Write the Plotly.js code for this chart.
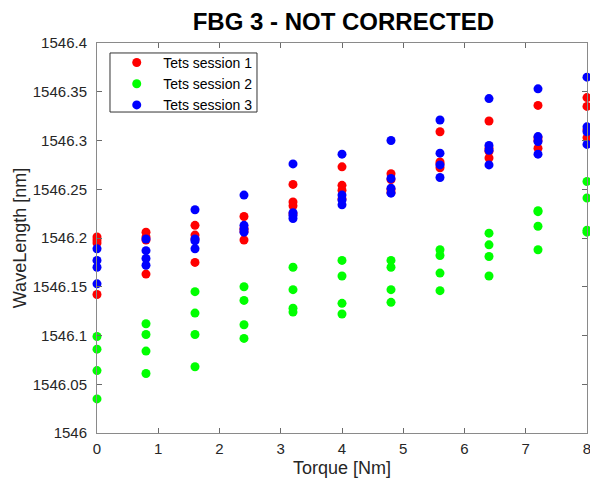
<!DOCTYPE html>
<html><head><meta charset="utf-8">
<script src="https://cdn.plot.ly/plotly-3.0.1.min.js"></script>
<style>html,body{margin:0;padding:0;background:#fff}#chart{width:590px;height:479px}</style>
</head><body><div id="chart"></div>
<script>
const torque = [0, 0.8, 1.6, 2.4, 3.2, 4.0, 4.8, 5.6, 6.4, 7.2, 8.0];
const session1 = [
  [1546.201, 1546.198, 1546.195, 1546.142],
  [1546.206, 1546.201, 1546.198, 1546.163],
  [1546.213, 1546.203, 1546.199, 1546.175],
  [1546.222, 1546.210, 1546.207, 1546.198],
  [1546.255, 1546.237, 1546.233, 1546.225],
  [1546.273, 1546.254, 1546.249, 1546.240],
  [1546.266, 1546.260, 1546.250, 1546.247],
  [1546.309, 1546.278, 1546.276, 1546.272],
  [1546.320, 1546.292, 1546.282, 1546.289],
  [1546.336, 1546.300, 1546.292, 1546.303],
  [1546.344, 1546.335, 1546.303, 1546.311]
];
const session2 = [
  [1546.099, 1546.086, 1546.064, 1546.035],
  [1546.112, 1546.101, 1546.084, 1546.061],
  [1546.145, 1546.123, 1546.101, 1546.068],
  [1546.150, 1546.136, 1546.111, 1546.097],
  [1546.170, 1546.147, 1546.128, 1546.124],
  [1546.177, 1546.161, 1546.133, 1546.122],
  [1546.177, 1546.170, 1546.147, 1546.134],
  [1546.188, 1546.182, 1546.164, 1546.146],
  [1546.205, 1546.193, 1546.181, 1546.161],
  [1546.228, 1546.212, 1546.188, 1546.227],
  [1546.258, 1546.241, 1546.208, 1546.206]
];
const session3 = [
  [1546.189, 1546.177, 1546.170, 1546.153],
  [1546.199, 1546.187, 1546.179, 1546.172],
  [1546.229, 1546.197, 1546.189, 1546.199],
  [1546.244, 1546.213, 1546.206, 1546.209],
  [1546.276, 1546.226, 1546.220, 1546.223],
  [1546.286, 1546.244, 1546.239, 1546.234],
  [1546.300, 1546.261, 1546.251, 1546.246],
  [1546.321, 1546.287, 1546.275, 1546.262],
  [1546.343, 1546.295, 1546.290, 1546.275],
  [1546.353, 1546.304, 1546.299, 1546.286],
  [1546.365, 1546.314, 1546.309, 1546.296]
];
const seriesNames = ['Tets session 1', 'Tets session 2', 'Tets session 3'];
const seriesColors = ['#ff0000', '#00ff00', '#0000ff'];
const yTickVals = [1546, 1546.05, 1546.1, 1546.15, 1546.2, 1546.25, 1546.3, 1546.35, 1546.4];
const yTickText = ['1546', '1546.05', '1546.1', '1546.15', '1546.2', '1546.25', '1546.3', '1546.35', '1546.4'];
const xTickVals = [0, 1, 2, 3, 4, 5, 6, 7, 8];
const xTitle = 'Torque [Nm]';
const yTitle = 'WaveLength [nm]';

const FONT = 'Liberation Sans, Arial, sans-serif';
function flatten(sess) {
  const xs = [], ys = [];
  sess.forEach((vals, i) => vals.forEach(v => { xs.push(torque[i]); ys.push(v); }));
  return {xs, ys};
}
const traces = [session1, session2, session3].map((s, k) => {
  const f = flatten(s);
  return {
    type: 'scatter', mode: 'markers', x: f.xs, y: f.ys, name: seriesNames[k],
    cliponaxis: false,
    marker: {color: seriesColors[k], size: 9, symbol: 'circle', line: {width: 0}}
  };
});
const axisCommon = {
  showgrid: false, zeroline: false, showline: true, linecolor: '#8a8a8a', linewidth: 1,
  mirror: 'ticks', ticks: 'inside', ticklen: 5, tickcolor: '#6a6a6a', tickwidth: 1,
  ticklabeloverflow: 'allow', automargin: false,
  tickfont: {family: FONT, size: 15, color: '#262626'}
};
const layout = {
  width: 590, height: 479,
  margin: {l: 97, r: 3, t: 43, b: 46},
  paper_bgcolor: '#fff', plot_bgcolor: '#fff',
  title: {text: '<b>FBG 3 - NOT CORRECTED</b>', x: 0.582, xanchor: 'center', y: 0.955, yanchor: 'middle',
          font: {family: FONT, size: 24, color: '#000'}},
  xaxis: Object.assign({}, axisCommon, {
    range: [0, 8], tickvals: xTickVals, ticklabelstandoff: 2
  }),
  yaxis: Object.assign({}, axisCommon, {
    range: [1546, 1546.4], tickvals: yTickVals, ticktext: yTickText, ticklabelstandoff: 6,
    title: {text: yTitle, standoff: 1, font: {family: FONT, size: 18, color: '#262626'}}
  }),
  annotations: [{text: xTitle, xref: 'paper', yref: 'paper', x: 0.5, y: -0.0885,
                 xanchor: 'center', yanchor: 'middle', showarrow: false,
                 font: {family: FONT, size: 18, color: '#262626'}}],
  shapes: [{type: 'rect', xref: 'paper', yref: 'paper', x0: 0.0265, x1: 0.3265, y0: 0.823, y1: 0.9744,
            line: {color: '#333', width: 1}, fillcolor: '#fff', layer: 'below'}],
  showlegend: true,
  legend: {x: 0.027, y: 0.990, xanchor: 'left', yanchor: 'top', bgcolor: 'rgba(0,0,0,0)',
           borderwidth: 0, itemwidth: 43, tracegroupgap: 0,
           font: {family: FONT, size: 14, color: '#000'}}
};
Plotly.newPlot('chart', traces, layout, {displayModeBar: false, staticPlot: true});
</script></body></html>
